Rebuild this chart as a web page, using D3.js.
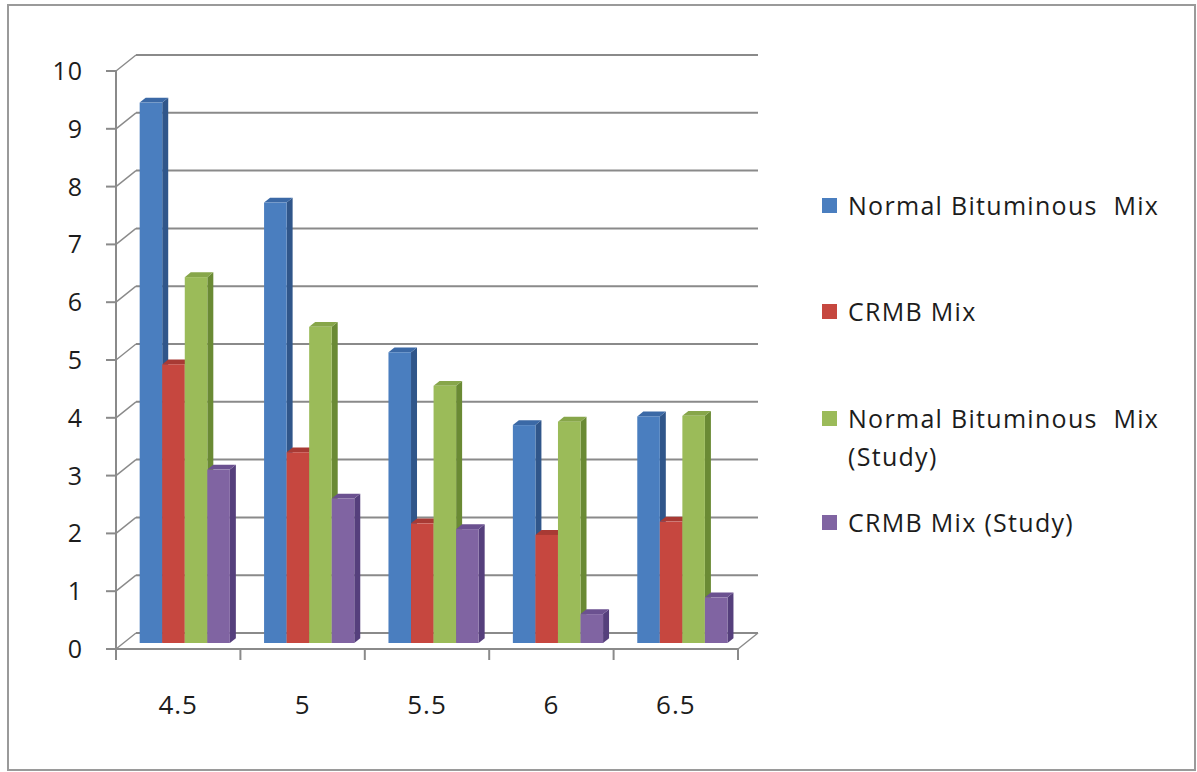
<!DOCTYPE html>
<html>
<head>
<meta charset="utf-8">
<script src="https://cdn.jsdelivr.net/npm/d3@7"></script>
<style>
  html, body { margin: 0; padding: 0; background: #ffffff; }
  svg { display: block; }
  text { font-family: "Open Sans", Lato, sans-serif; fill: #1c1c1c; }
</style>
</head>
<body>
<svg id="chart" width="1197" height="772"></svg>
<script>
// Categories on the horizontal axis
const categories = ["4.5", "5", "5.5", "6", "6.5"];

// Series values, one array per mix
const normalMix      = [9.35, 7.62, 5.03, 3.77, 3.92];
const crmbMix        = [4.82, 3.3, 2.07, 1.87, 2.1];
const normalMixStudy = [6.33, 5.47, 4.45, 3.83, 3.93];
const crmbMixStudy   = [3.0, 2.5, 1.97, 0.5, 0.79];

const seriesNames = [
  "Normal Bituminous  Mix",
  "CRMB Mix",
  "Normal Bituminous  Mix (Study)",
  "CRMB Mix (Study)"
];
const yTicks = [0, 1, 2, 3, 4, 5, 6, 7, 8, 9, 10];

const seriesValues = [normalMix, crmbMix, normalMixStudy, crmbMixStudy];

// Face colours: front, side, top
const palette = [
  { front: "#4a7ebf", side: "#30568a", top: "#3b69a6" },
  { front: "#c6473f", side: "#8e302b", top: "#a83a34" },
  { front: "#9bbb59", side: "#6a8a34", top: "#87a64a" },
  { front: "#8064a2", side: "#553f7c", top: "#6b5190" }
];

const svg = d3.select("#chart");

// Outer frame
svg.append("rect")
  .attr("x", 8).attr("y", 5).attr("width", 1187).attr("height", 765)
  .attr("fill", "#fff").attr("stroke", "#9a9a9a").attr("stroke-width", 2);

// Plot box in the front plane, depth offset for the back wall
const plotL = 116, plotR = 738, plotB = 649, plotT = 71;
const DX = 20, DY = -16;

const x = d3.scaleBand().domain(categories).range([plotL, plotR]).padding(0);
const y = d3.scaleLinear().domain([0, 10]).range([plotB, plotT]);
const s = d3.scaleBand().domain(d3.range(4))
  .range([x.bandwidth() * 0.13, x.bandwidth() * 0.855]).padding(0);

// Project a front-plane point to depth d (0 = front, 1 = back)
const P = (px, py, d) => [px + d * DX, py + d * DY];

const grid = "#8a8a8a";
const g = svg.append("g");

// Back wall gridlines
g.selectAll("line.grid").data(yTicks).join("line")
  .attr("class", "grid")
  .attr("x1", plotL + DX).attr("x2", plotR + DX)
  .attr("y1", d => y(d) + DY).attr("y2", d => y(d) + DY)
  .attr("stroke", grid).attr("stroke-width", 2);

// Side wall diagonals
g.selectAll("line.side").data(yTicks).join("line")
  .attr("class", "side")
  .attr("x1", plotL).attr("x2", plotL + DX)
  .attr("y1", d => y(d)).attr("y2", d => y(d) + DY)
  .attr("stroke", grid).attr("stroke-width", 1.5);

// Floor: front edge and right diagonal
g.append("line").attr("x1", plotL).attr("x2", plotR)
  .attr("y1", plotB).attr("y2", plotB)
  .attr("stroke", grid).attr("stroke-width", 2);
g.append("line").attr("x1", plotR).attr("x2", plotR + DX)
  .attr("y1", plotB).attr("y2", plotB + DY)
  .attr("stroke", grid).attr("stroke-width", 1.5);

// Vertical axis line, ticks and labels
g.append("line").attr("x1", plotL).attr("x2", plotL)
  .attr("y1", plotT).attr("y2", plotB)
  .attr("stroke", grid).attr("stroke-width", 2);
g.selectAll("line.ytick").data(yTicks).join("line")
  .attr("class", "ytick")
  .attr("x1", plotL - 10).attr("x2", plotL)
  .attr("y1", d => y(d)).attr("y2", d => y(d))
  .attr("stroke", grid).attr("stroke-width", 2);
g.selectAll("text.ylab").data(yTicks).join("text")
  .attr("class", "ylab")
  .attr("x", 83).attr("y", d => y(d))
  .attr("dy", "0.36em")
  .attr("text-anchor", "end")
  .attr("font-size", 25)
  .attr("letter-spacing", 1)
  .text(d => d);

// Horizontal axis ticks and labels
const xEdges = categories.map(c => x(c)).concat([plotR]);
g.selectAll("line.xtick").data(xEdges).join("line")
  .attr("class", "xtick")
  .attr("x1", d => d).attr("x2", d => d)
  .attr("y1", plotB).attr("y2", plotB + 11)
  .attr("stroke", grid).attr("stroke-width", 2);
g.selectAll("text.xlab").data(categories).join("text")
  .attr("class", "xlab")
  .attr("x", d => x(d) + x.bandwidth() / 2)
  .attr("y", 705)
  .attr("dy", "0.36em")
  .attr("text-anchor", "middle")
  .attr("font-size", 26)
  .attr("letter-spacing", 1)
  .text(d => d);

// 3D columns: front face sits at depth d0, back face at d1
const d0 = 0.375, d1 = 0.675;
const bars = [];
categories.forEach((c, ci) => {
  seriesValues.forEach((vals, si) => {
    bars.push({ c, si, v: vals[ci] });
  });
});

const barG = svg.append("g");
const poly = pts => pts.map(p => p.join(",")).join(" ");
bars.forEach(b => {
  const x0 = x(b.c) + s(b.si);
  const x1 = x0 + s.bandwidth();
  const yt = y(b.v), yb = y(0);
  const col = palette[b.si];
  const bar = barG.append("g");
  // side face
  bar.append("polygon")
    .attr("points", poly([P(x1, yt, d0), P(x1, yt, d1), P(x1, yb, d1), P(x1, yb, d0)]))
    .attr("fill", col.side);
  // top face
  bar.append("polygon")
    .attr("points", poly([P(x0, yt, d0), P(x0, yt, d1), P(x1, yt, d1), P(x1, yt, d0)]))
    .attr("fill", col.top);
  // front face
  const f0 = P(x0, yt, d0), f1 = P(x1, yb, d0);
  bar.append("rect")
    .attr("x", f0[0]).attr("y", f0[1])
    .attr("width", f1[0] - f0[0]).attr("height", f1[1] - f0[1])
    .attr("fill", col.front);
});

// Legend
const legendRows = [
  { i: 0, lines: ["Normal Bituminous  Mix"], y: 215 },
  { i: 1, lines: ["CRMB Mix"], y: 321 },
  { i: 2, lines: ["Normal Bituminous  Mix", "(Study)"], y: 428 },
  { i: 3, lines: ["CRMB Mix (Study)"], y: 532 }
];
const lg = svg.append("g");
legendRows.forEach(r => {
  lg.append("rect")
    .attr("x", 822).attr("y", r.y - 17).attr("width", 15).attr("height", 15)
    .attr("fill", palette[r.i].front);
  const t = lg.append("text")
    .attr("x", 848).attr("y", r.y)
    .attr("font-size", 25)
    .attr("letter-spacing", 1.3)
    .style("white-space", "pre");
  r.lines.forEach((ln, k) => {
    t.append("tspan").attr("x", 848).attr("dy", k === 0 ? 0 : 38).text(ln);
  });
});
</script>
</body>
</html>
